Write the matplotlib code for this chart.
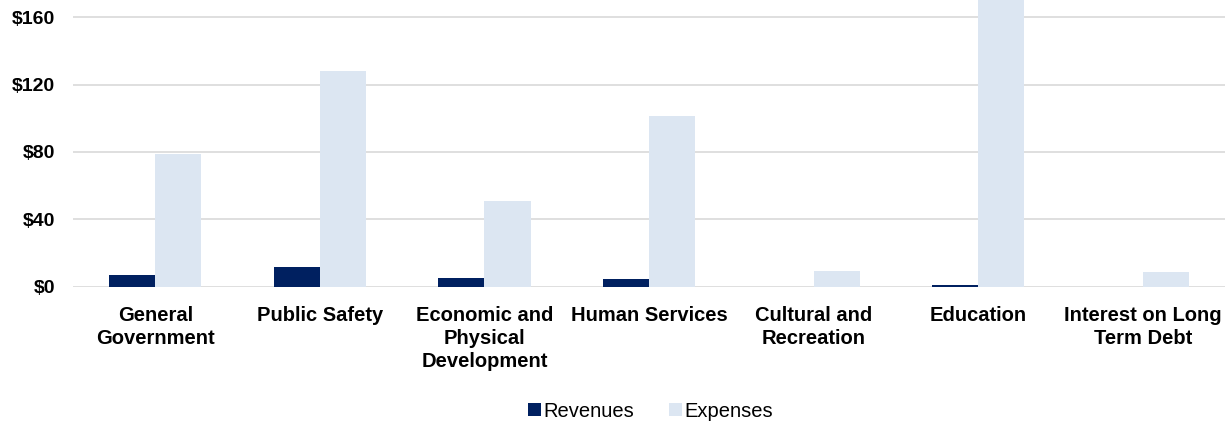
import numpy as np
import matplotlib.pyplot as plt

plt.rcParams['font.family'] = ['Liberation Sans', 'DejaVu Sans']

categories = ["General\nGovernment", "Public Safety", "Economic and\nPhysical\nDevelopment",
              "Human Services", "Cultural and\nRecreation", "Education",
              "Interest on Long\nTerm Debt"]
revenues = [6.8, 11.9, 5.1, 4.6, 0.0, 1.0, 0.0]
expenses = [78.7, 128.3, 51.0, 101.2, 9.5, 185.0, 8.9]
yticks = [0, 40, 80, 120, 160]

NAVY = '#002060'
LIGHT = '#DCE6F2'

fig = plt.figure(figsize=(12.25, 4.24), dpi=100)
ax = fig.add_axes([0.0596, 0.324, 0.9404, 0.676])

x = np.arange(len(categories))
w = 0.28
ax.bar(x - w / 2, revenues, w, color=NAVY, label='Revenues', zorder=3)
ax.bar(x + w / 2, expenses, w, color=LIGHT, label='Expenses', zorder=3)

ax.set_xlim(-0.5, len(categories) - 0.5)
ax.set_ylim(0, 170.3)
ax.set_yticks(yticks)
ax.set_yticklabels([f'${v}' for v in yticks], fontsize=14, fontweight='bold')
ax.set_xticks(x)
ax.set_xticklabels(categories, fontsize=14.5, fontweight='bold', linespacing=1.27)
ax.tick_params(axis='both', length=0)
ax.tick_params(axis='x', pad=14)
ax.tick_params(axis='y', pad=13)
ax.yaxis.grid(True, color='#d9d9d9', linewidth=1.2, zorder=0)
for s in ax.spines.values():
    s.set_visible(False)

fig.legend(loc='center', bbox_to_anchor=(0.531, 0.03), ncol=2, frameon=False,
           fontsize=14.5, handlelength=0.65, handleheight=0.65, handletextpad=0.12,
           columnspacing=1.7)

fig.savefig('out.png', dpi=100)
